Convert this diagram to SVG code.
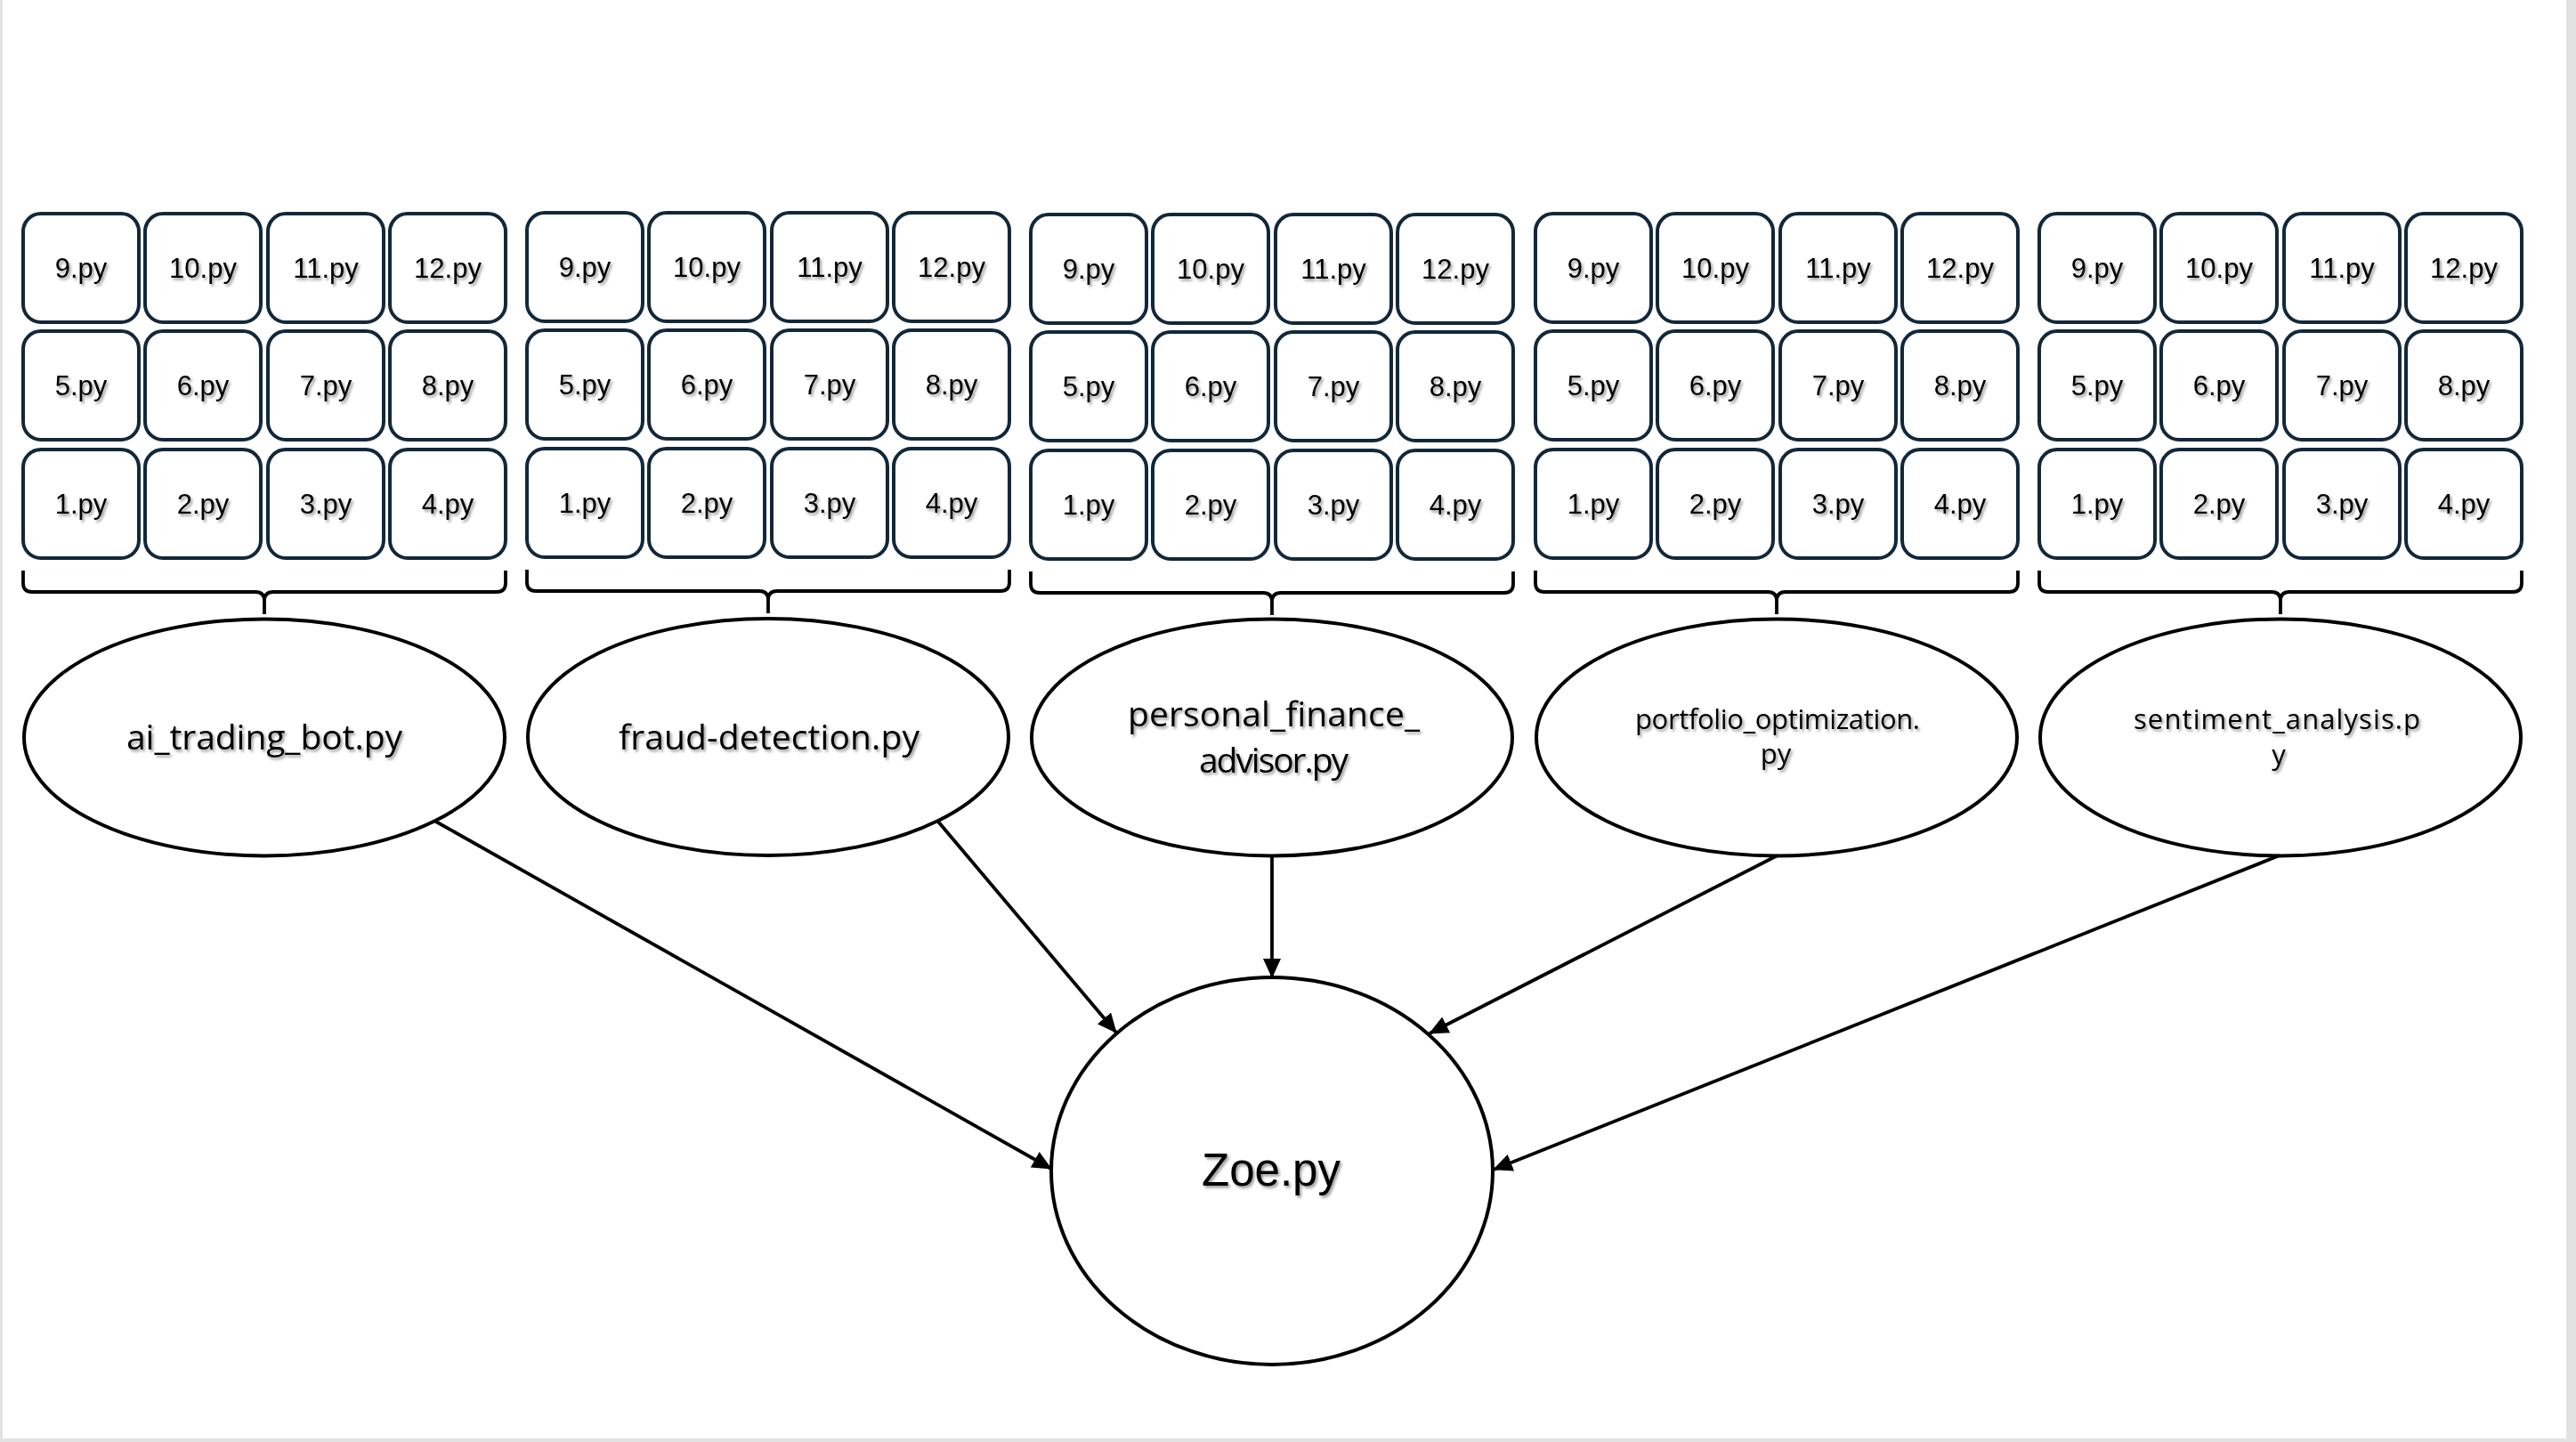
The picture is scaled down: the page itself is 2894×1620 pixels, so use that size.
<svg xmlns="http://www.w3.org/2000/svg" width="2894" height="1620" viewBox="0 0 2894 1620">
<style>
.box{fill:#fff;stroke:#12283a;stroke-width:4}
.bl{font-family:"Liberation Sans",Arial,sans-serif;font-size:31px;text-anchor:middle;fill:#000;filter:url(#sh)}
.brace{fill:none;stroke:#000;stroke-width:3.8;stroke-linejoin:round}
.ell{fill:#fff;stroke:#000;stroke-width:4}
.el{font-family:"Open Sans","Liberation Sans",sans-serif;font-size:39px;text-anchor:middle;fill:#000;filter:url(#sh)}
.es{font-family:"Open Sans","Liberation Sans",sans-serif;font-size:31px;text-anchor:middle;fill:#000;filter:url(#sh)}
.zl{font-family:"Liberation Sans",Arial,sans-serif;font-size:51px;text-anchor:middle;fill:#000;filter:url(#sh)}
.conn{stroke:#000;stroke-width:3.8;fill:none;marker-end:url(#ah)}
</style>
<defs>
<filter id="sh" x="-10%" y="-30%" width="120%" height="160%">
<feDropShadow dx="2" dy="2.5" stdDeviation="1.6" flood-color="#000" flood-opacity="0.4"/>
</filter>
<marker id="ah" markerUnits="userSpaceOnUse" markerWidth="22" markerHeight="20" refX="21" refY="10" orient="auto">
<path d="M0,0 L22,10 L0,20 z" fill="#000"/>
</marker>
</defs>
<rect x="0" y="0" width="2894" height="1620" fill="#e2e2e2"/>
<rect x="3" y="0" width="2880" height="1616" fill="#fff"/>

<g id="group-ai_trading_bot" transform="translate(26,0)">
<g id="ai-9"><rect class="box" x="0" y="240" width="130" height="122" rx="20"/><text class="bl" x="65" y="312">9.py</text></g>
<g id="ai-10"><rect class="box" x="137" y="240" width="130" height="122" rx="20"/><text class="bl" x="202" y="312">10.py</text></g>
<g id="ai-11"><rect class="box" x="275" y="240" width="130" height="122" rx="20"/><text class="bl" x="340" y="312">11.py</text></g>
<g id="ai-12"><rect class="box" x="412" y="240" width="130" height="122" rx="20"/><text class="bl" x="477" y="312">12.py</text></g>
<g id="ai-5"><rect class="box" x="0" y="372" width="130" height="122" rx="20"/><text class="bl" x="65" y="444">5.py</text></g>
<g id="ai-6"><rect class="box" x="137" y="372" width="130" height="122" rx="20"/><text class="bl" x="202" y="444">6.py</text></g>
<g id="ai-7"><rect class="box" x="275" y="372" width="130" height="122" rx="20"/><text class="bl" x="340" y="444">7.py</text></g>
<g id="ai-8"><rect class="box" x="412" y="372" width="130" height="122" rx="20"/><text class="bl" x="477" y="444">8.py</text></g>
<g id="ai-1"><rect class="box" x="0" y="505" width="130" height="122" rx="20"/><text class="bl" x="65" y="577">1.py</text></g>
<g id="ai-2"><rect class="box" x="137" y="505" width="130" height="122" rx="20"/><text class="bl" x="202" y="577">2.py</text></g>
<g id="ai-3"><rect class="box" x="275" y="505" width="130" height="122" rx="20"/><text class="bl" x="340" y="577">3.py</text></g>
<g id="ai-4"><rect class="box" x="412" y="505" width="130" height="122" rx="20"/><text class="bl" x="477" y="577">4.py</text></g>
<path class="brace" d="M0,641 L0,655 Q0,665 10,665 L261,665 Q271,665 271,675 L271,690 M271,675 Q271,665 281,665 L532,665 Q542,665 542,655 L542,641"/>
</g>

<g id="group-fraud_detection" transform="translate(592,-1)">
<g id="fd-9"><rect class="box" x="0" y="240" width="130" height="122" rx="20"/><text class="bl" x="65" y="312">9.py</text></g>
<g id="fd-10"><rect class="box" x="137" y="240" width="130" height="122" rx="20"/><text class="bl" x="202" y="312">10.py</text></g>
<g id="fd-11"><rect class="box" x="275" y="240" width="130" height="122" rx="20"/><text class="bl" x="340" y="312">11.py</text></g>
<g id="fd-12"><rect class="box" x="412" y="240" width="130" height="122" rx="20"/><text class="bl" x="477" y="312">12.py</text></g>
<g id="fd-5"><rect class="box" x="0" y="372" width="130" height="122" rx="20"/><text class="bl" x="65" y="444">5.py</text></g>
<g id="fd-6"><rect class="box" x="137" y="372" width="130" height="122" rx="20"/><text class="bl" x="202" y="444">6.py</text></g>
<g id="fd-7"><rect class="box" x="275" y="372" width="130" height="122" rx="20"/><text class="bl" x="340" y="444">7.py</text></g>
<g id="fd-8"><rect class="box" x="412" y="372" width="130" height="122" rx="20"/><text class="bl" x="477" y="444">8.py</text></g>
<g id="fd-1"><rect class="box" x="0" y="505" width="130" height="122" rx="20"/><text class="bl" x="65" y="577">1.py</text></g>
<g id="fd-2"><rect class="box" x="137" y="505" width="130" height="122" rx="20"/><text class="bl" x="202" y="577">2.py</text></g>
<g id="fd-3"><rect class="box" x="275" y="505" width="130" height="122" rx="20"/><text class="bl" x="340" y="577">3.py</text></g>
<g id="fd-4"><rect class="box" x="412" y="505" width="130" height="122" rx="20"/><text class="bl" x="477" y="577">4.py</text></g>
<path class="brace" d="M0,641 L0,655 Q0,665 10,665 L261,665 Q271,665 271,675 L271,690 M271,675 Q271,665 281,665 L532,665 Q542,665 542,655 L542,641"/>
</g>

<g id="group-personal_finance_advisor" transform="translate(1158,1)">
<g id="pf-9"><rect class="box" x="0" y="240" width="130" height="122" rx="20"/><text class="bl" x="65" y="312">9.py</text></g>
<g id="pf-10"><rect class="box" x="137" y="240" width="130" height="122" rx="20"/><text class="bl" x="202" y="312">10.py</text></g>
<g id="pf-11"><rect class="box" x="275" y="240" width="130" height="122" rx="20"/><text class="bl" x="340" y="312">11.py</text></g>
<g id="pf-12"><rect class="box" x="412" y="240" width="130" height="122" rx="20"/><text class="bl" x="477" y="312">12.py</text></g>
<g id="pf-5"><rect class="box" x="0" y="372" width="130" height="122" rx="20"/><text class="bl" x="65" y="444">5.py</text></g>
<g id="pf-6"><rect class="box" x="137" y="372" width="130" height="122" rx="20"/><text class="bl" x="202" y="444">6.py</text></g>
<g id="pf-7"><rect class="box" x="275" y="372" width="130" height="122" rx="20"/><text class="bl" x="340" y="444">7.py</text></g>
<g id="pf-8"><rect class="box" x="412" y="372" width="130" height="122" rx="20"/><text class="bl" x="477" y="444">8.py</text></g>
<g id="pf-1"><rect class="box" x="0" y="505" width="130" height="122" rx="20"/><text class="bl" x="65" y="577">1.py</text></g>
<g id="pf-2"><rect class="box" x="137" y="505" width="130" height="122" rx="20"/><text class="bl" x="202" y="577">2.py</text></g>
<g id="pf-3"><rect class="box" x="275" y="505" width="130" height="122" rx="20"/><text class="bl" x="340" y="577">3.py</text></g>
<g id="pf-4"><rect class="box" x="412" y="505" width="130" height="122" rx="20"/><text class="bl" x="477" y="577">4.py</text></g>
<path class="brace" d="M0,641 L0,655 Q0,665 10,665 L261,665 Q271,665 271,675 L271,690 M271,675 Q271,665 281,665 L532,665 Q542,665 542,655 L542,641"/>
</g>

<g id="group-portfolio_optimization" transform="translate(1725,0)">
<g id="po-9"><rect class="box" x="0" y="240" width="130" height="122" rx="20"/><text class="bl" x="65" y="312">9.py</text></g>
<g id="po-10"><rect class="box" x="137" y="240" width="130" height="122" rx="20"/><text class="bl" x="202" y="312">10.py</text></g>
<g id="po-11"><rect class="box" x="275" y="240" width="130" height="122" rx="20"/><text class="bl" x="340" y="312">11.py</text></g>
<g id="po-12"><rect class="box" x="412" y="240" width="130" height="122" rx="20"/><text class="bl" x="477" y="312">12.py</text></g>
<g id="po-5"><rect class="box" x="0" y="372" width="130" height="122" rx="20"/><text class="bl" x="65" y="444">5.py</text></g>
<g id="po-6"><rect class="box" x="137" y="372" width="130" height="122" rx="20"/><text class="bl" x="202" y="444">6.py</text></g>
<g id="po-7"><rect class="box" x="275" y="372" width="130" height="122" rx="20"/><text class="bl" x="340" y="444">7.py</text></g>
<g id="po-8"><rect class="box" x="412" y="372" width="130" height="122" rx="20"/><text class="bl" x="477" y="444">8.py</text></g>
<g id="po-1"><rect class="box" x="0" y="505" width="130" height="122" rx="20"/><text class="bl" x="65" y="577">1.py</text></g>
<g id="po-2"><rect class="box" x="137" y="505" width="130" height="122" rx="20"/><text class="bl" x="202" y="577">2.py</text></g>
<g id="po-3"><rect class="box" x="275" y="505" width="130" height="122" rx="20"/><text class="bl" x="340" y="577">3.py</text></g>
<g id="po-4"><rect class="box" x="412" y="505" width="130" height="122" rx="20"/><text class="bl" x="477" y="577">4.py</text></g>
<path class="brace" d="M0,641 L0,655 Q0,665 10,665 L261,665 Q271,665 271,675 L271,690 M271,675 Q271,665 281,665 L532,665 Q542,665 542,655 L542,641"/>
</g>

<g id="group-sentiment_analysis" transform="translate(2291,0)">
<g id="sa-9"><rect class="box" x="0" y="240" width="130" height="122" rx="20"/><text class="bl" x="65" y="312">9.py</text></g>
<g id="sa-10"><rect class="box" x="137" y="240" width="130" height="122" rx="20"/><text class="bl" x="202" y="312">10.py</text></g>
<g id="sa-11"><rect class="box" x="275" y="240" width="130" height="122" rx="20"/><text class="bl" x="340" y="312">11.py</text></g>
<g id="sa-12"><rect class="box" x="412" y="240" width="130" height="122" rx="20"/><text class="bl" x="477" y="312">12.py</text></g>
<g id="sa-5"><rect class="box" x="0" y="372" width="130" height="122" rx="20"/><text class="bl" x="65" y="444">5.py</text></g>
<g id="sa-6"><rect class="box" x="137" y="372" width="130" height="122" rx="20"/><text class="bl" x="202" y="444">6.py</text></g>
<g id="sa-7"><rect class="box" x="275" y="372" width="130" height="122" rx="20"/><text class="bl" x="340" y="444">7.py</text></g>
<g id="sa-8"><rect class="box" x="412" y="372" width="130" height="122" rx="20"/><text class="bl" x="477" y="444">8.py</text></g>
<g id="sa-1"><rect class="box" x="0" y="505" width="130" height="122" rx="20"/><text class="bl" x="65" y="577">1.py</text></g>
<g id="sa-2"><rect class="box" x="137" y="505" width="130" height="122" rx="20"/><text class="bl" x="202" y="577">2.py</text></g>
<g id="sa-3"><rect class="box" x="275" y="505" width="130" height="122" rx="20"/><text class="bl" x="340" y="577">3.py</text></g>
<g id="sa-4"><rect class="box" x="412" y="505" width="130" height="122" rx="20"/><text class="bl" x="477" y="577">4.py</text></g>
<path class="brace" d="M0,641 L0,655 Q0,665 10,665 L261,665 Q271,665 271,675 L271,690 M271,675 Q271,665 281,665 L532,665 Q542,665 542,655 L542,641"/>
</g>

<g id="node-ai_trading_bot">
<ellipse class="ell" cx="297" cy="828.5" rx="270" ry="133"/>
<text class="el" x="297" y="842" textLength="310">ai_trading_bot.py</text>
</g>
<g id="node-fraud_detection">
<ellipse class="ell" cx="863" cy="828" rx="270" ry="133"/>
<text class="el" x="864" y="842" textLength="338">fraud-detection.py</text>
</g>
<g id="node-personal_finance_advisor">
<ellipse class="ell" cx="1429" cy="828.5" rx="270" ry="133"/>
<text class="el" x="1431" y="816" textLength="328">personal_finance_</text>
<text class="el" x="1431" y="868" textLength="168">advisor.py</text>
</g>
<g id="node-portfolio_optimization">
<ellipse class="ell" cx="1996" cy="828.5" rx="270" ry="133"/>
<text class="es" x="1997" y="819" textLength="320">portfolio_optimization.</text>
<text class="es" x="1995" y="858">py</text>
</g>
<g id="node-sentiment_analysis">
<ellipse class="ell" cx="2562" cy="828.5" rx="270" ry="133"/>
<text class="es" x="2558" y="819" textLength="322">sentiment_analysis.p</text>
<text class="es" x="2560" y="859">y</text>
</g>

<g id="connectors">
<line class="conn" x1="488" y1="922" x2="1181" y2="1313"/>
<line class="conn" x1="1054" y1="923" x2="1254" y2="1160"/>
<line class="conn" x1="1429" y1="962" x2="1429" y2="1098"/>
<line class="conn" x1="1997" y1="961" x2="1606" y2="1161"/>
<line class="conn" x1="2561" y1="961" x2="1678" y2="1314"/>
</g>

<g id="node-zoe">
<ellipse class="ell" cx="1429" cy="1315.5" rx="248" ry="217.5"/>
<text class="zl" x="1428" y="1332">Zoe.py</text>
</g>
</svg>
